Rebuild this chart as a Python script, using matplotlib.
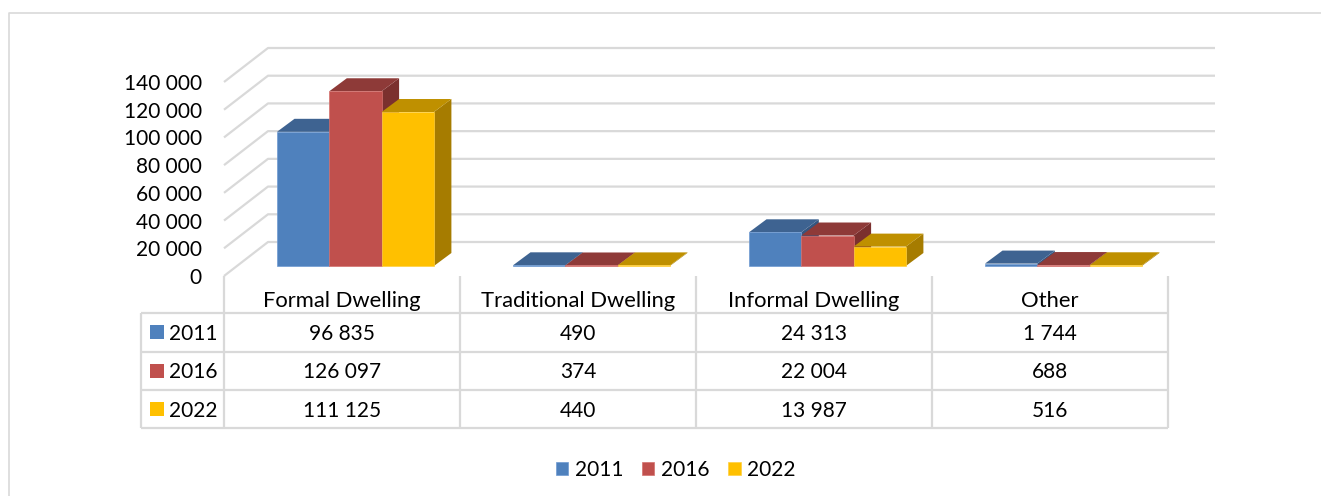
import matplotlib
matplotlib.use('Agg')
import matplotlib.pyplot as plt
from matplotlib.patches import Polygon, Rectangle
import numpy as np

plt.rcParams['font.family'] = ['Lato', 'DejaVu Sans']

categories = ['Formal Dwelling', 'Traditional Dwelling', 'Informal Dwelling', 'Other']
years = ['2011', '2016', '2022']
v2011 = [96835, 490, 24313, 1744]
v2016 = [126097, 374, 22004, 688]
v2022 = [111125, 440, 13987, 516]
yticks = [0, 20000, 40000, 60000, 80000, 100000, 120000, 140000]

front_cols = ['#4F81BD', '#C0504D', '#FFC000']
edge_cols = ['#6E9AD2', '#D4716E', '#FFD040']
top_cols = ['#3E6391', '#8E3A38', '#BF9000']
side_cols = ['#355680', '#7B302E', '#A67C00']
GRID = '#D9D9D9'
TXT = '#000000'
FS = 15
FS_CAT = 15.8

W, H = 1321.0, 496.0
fig = plt.figure(figsize=(13.21, 4.96), dpi=100)

# page axes in pixels, for the frame and the data table
pg = fig.add_axes([0, 0, 1, 1])
pg.set_xlim(0, W)
pg.set_ylim(H, 0)
pg.axis('off')

# chart axes: x in categories, y in values
ax = fig.add_axes([224 / W, 1 - 276 / H, 944 / W, 194 / H])
ax.set_xlim(0, 4)
ax.set_ylim(0, 140000)
ax.patch.set_alpha(0)
for s in ax.spines.values():
    s.set_visible(False)

# pixel -> data sizes for the fake 3D
px_x = 4 / 944.0
px_y = 140000 / 194.0
wall_dx, wall_dy = 44 * px_x, 34 * px_y
depth_dx, depth_dy = 17.5 * px_x, 13 * px_y
floor = 10 * px_y
bar_w = 52.3 * px_x
bar_off = 53 * px_x
wall_right = 991 * px_x

for v in yticks:
    ax.plot([0, wall_dx, wall_right], [v, v + wall_dy, v + wall_dy], color=GRID,
            lw=1.6, zorder=1, clip_on=False, solid_capstyle='butt')

series = [v2011, v2016, v2022]
handles = []
z = 2
for c in range(len(categories)):
    for s in range(len(series)):
        x0 = c + bar_off + s * bar_w
        x1 = x0 + bar_w
        top = floor + series[s][c]
        ax.add_patch(Polygon([(x1, floor), (x1 + depth_dx, floor + depth_dy),
                              (x1 + depth_dx, top + depth_dy), (x1, top)],
                             fc=side_cols[s], ec='none', zorder=z, clip_on=False))
        ax.add_patch(Polygon([(x0, top), (x1, top), (x1 + depth_dx, top + depth_dy),
                              (x0 + depth_dx, top + depth_dy)],
                             fc=top_cols[s], ec='none', zorder=z, clip_on=False))
        b = ax.bar(x0, series[s][c], bar_w, bottom=floor, align='edge', color=front_cols[s],
                   edgecolor=edge_cols[s], linewidth=0.5, zorder=z + 1, clip_on=False)
        if c == 0:
            handles.append(b[0])
        z += 2

ax.set_yticks(yticks)
ax.set_yticklabels([('%d' % v) if v == 0 else '%d 000' % (v / 1000) for v in yticks],
                   fontsize=FS, color=TXT)
ax.tick_params(axis='y', length=0, pad=16)
ax.set_xticks(np.arange(len(categories)) + 0.5)
ax.set_xticklabels(categories, fontsize=FS_CAT, color=TXT)
ax.tick_params(axis='x', length=0, pad=10.5)

# outer frame, open at the right and the bottom
pg.plot([9, 9, W], [H, 12.5, 12.5], color=GRID, lw=1.2)

# data table
col_x = [224, 460, 696, 932, 1168]
row_y = [313, 351.5, 389.5, 428]
for x in col_x:
    pg.plot([x, x], [276, 428], color=GRID, lw=1.6, solid_capstyle='butt')
pg.plot([141, 141], [313, 428], color=GRID, lw=1.6, solid_capstyle='butt')
for y in row_y:
    pg.plot([141, 1168], [y, y], color=GRID, lw=1.6, solid_capstyle='butt')

for s in range(len(series)):
    yc = (row_y[s] + row_y[s + 1]) / 2
    pg.add_patch(Rectangle((150, yc - 7), 14, 14, fc=front_cols[s], ec='none'))
    pg.text(169, yc, years[s], fontsize=FS, color=TXT, va='center_baseline', ha='left')
    for c in range(len(categories)):
        label = ('{:,}'.format(series[s][c])).replace(',', ' ')
        pg.text((col_x[c] + col_x[c + 1]) / 2, yc, label, fontsize=FS, color=TXT,
                va='center_baseline', ha='center')

leg = fig.legend(handles, years, loc='center', bbox_to_anchor=(676 / W, 1 - 470 / H), ncols=3,
                 frameon=False, fontsize=FS, handlelength=0.58, handleheight=0.58,
                 handletextpad=0.33, columnspacing=0.9, labelcolor=TXT)

fig.savefig('out.png', dpi=100)
